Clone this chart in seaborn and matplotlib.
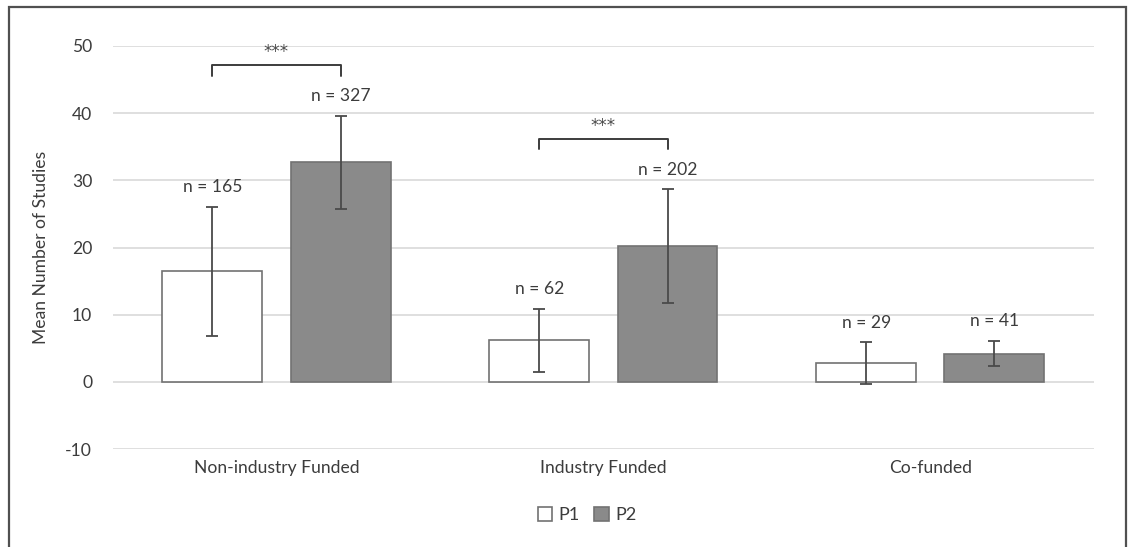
import matplotlib
matplotlib.use("Agg")
import matplotlib.pyplot as plt
import matplotlib.patches as mpatches
import seaborn as sns
import pandas as pd

categories = ["Non-industry Funded", "Industry Funded", "Co-funded"]
periods = ["P1", "P2"]
p1_means = [16.5, 6.2, 2.8]
p2_means = [32.7, 20.2, 4.2]
p1_err = [9.6, 4.7, 3.1]
p2_err = [6.9, 8.5, 1.9]
p1_n = ["n = 165", "n = 62", "n = 29"]
p2_n = ["n = 327", "n = 202", "n = 41"]
sig_labels = ["***", "***", ""]
yticks = [-10, 0, 10, 20, 30, 40, 50]

df = pd.DataFrame({
    "category": categories * 2,
    "period": ["P1"] * 3 + ["P2"] * 3,
    "mean": p1_means + p2_means,
})

sns.set_theme(style="white")
plt.rcParams["font.family"] = ["Lato", "DejaVu Sans"]
plt.rcParams["axes.unicode_minus"] = False
txt = "#3c3c3c"
fs = 12.6

fig = plt.figure(figsize=(11.3, 5.47), dpi=100)
ax = fig.add_axes([0.1, 0.179, 0.868, 0.737])

palette = {"P1": "#ffffff", "P2": "#8a8a8a"}
sns.barplot(data=df, x="category", y="mean", hue="period", order=categories,
            hue_order=periods, palette=palette, errorbar=None, width=0.784,
            gap=0.22, edgecolor="#727272", linewidth=1.2, ax=ax, legend=False,
            zorder=3)

bar_containers = list(ax.containers)
errs = [p1_err, p2_err]
means = [p1_means, p2_means]
ns = [p1_n, p2_n]
centers = []
tops = []
for h, cont in enumerate(bar_containers):
    cx = [b.get_x() + b.get_width() / 2 for b in cont]
    centers.append(cx)
    ax.errorbar(cx, means[h], yerr=errs[h], fmt="none", ecolor="#4a4a4a",
                elinewidth=1.3, capsize=4.3, capthick=1.3, zorder=4)
    t = []
    for i, x in enumerate(cx):
        top = means[h][i] + errs[h][i]
        t.append(top)
        ax.text(x, top + 2.9, ns[h][i], ha="center", va="center",
                fontsize=fs, color=txt)
    tops.append(t)

for i, lab in enumerate(sig_labels):
    if not lab:
        continue
    x1, x2 = centers[0][i], centers[1][i]
    ybr = tops[1][i] + 7.5
    ax.plot([x1, x1, x2, x2], [ybr - 1.5, ybr, ybr, ybr - 1.5], color="#3c3c3c",
            lw=1.4, clip_on=False, zorder=5)
    ax.text((x1 + x2) / 2, ybr + 1.2, lab, ha="center", va="baseline",
            fontsize=12, color="#4a4a4a", family="DejaVu Sans")

ax.set_ylim(-10, 50)
ax.set_xlim(-0.5, 2.5)
ax.set_yticks(yticks)
ax.yaxis.grid(True, color="#d9d9d9", lw=1.2, zorder=0)
ax.set_axisbelow(True)
for s in ax.spines.values():
    s.set_visible(False)
ax.tick_params(axis="both", length=0, labelsize=fs, labelcolor=txt)
ax.tick_params(axis="y", pad=15)
ax.tick_params(axis="x", pad=8)
ax.set_xlabel("")
ax.set_ylabel("Mean Number of Studies", fontsize=fs, color=txt, labelpad=12)

handles = [mpatches.Patch(facecolor="#ffffff", edgecolor="#727272", lw=1.2, label="P1"),
           mpatches.Patch(facecolor="#8a8a8a", edgecolor="#727272", lw=1.2, label="P2")]
fig.legend(handles=handles, loc="center", bbox_to_anchor=(587 / 1130, 1 - 515 / 547),
           ncol=2, frameon=False, handlelength=0.8, handleheight=0.8,
           handletextpad=0.35, columnspacing=0.8, fontsize=fs + 0.5, labelcolor=txt)

border = mpatches.Rectangle((9 / 1130, -0.05), (1126 - 9) / 1130, 1.05 - 7 / 547,
                            transform=fig.transFigure, fill=False,
                            edgecolor="#505050", lw=1.6, clip_on=False)
fig.patches.append(border)

fig.savefig("out.png", dpi=100, facecolor="white")
